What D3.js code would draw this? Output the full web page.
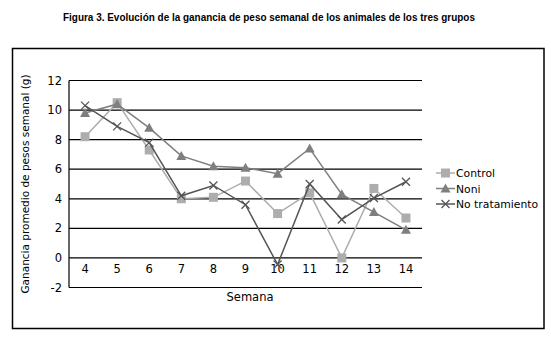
<!DOCTYPE html>
<html>
<head>
<meta charset="utf-8">
<script src="https://cdn.jsdelivr.net/npm/d3@7"></script>
<style>
    body { margin: 0; background: #fff; }
    text { font-family: "DejaVu Sans", Verdana, sans-serif; fill: #000; }
</style>
</head>
<body>
<svg id="chart" width="551" height="363"></svg>
<script>
    // semanas y valores
    const semanas = ["4", "5", "6", "7", "8", "9", "10", "11", "12", "13", "14"];
    const control = [8.2, 10.5, 7.3, 4.0, 4.1, 5.2, 3.0, 4.4, 0.0, 4.7, 2.7];
    const noni = [9.8, 10.4, 8.8, 6.9, 6.2, 6.1, 5.7, 7.4, 4.3, 3.1, 1.9];
    const noTrat = [10.3, 8.9, 7.8, 4.2, 4.9, 3.6, -0.45, 5.0, 2.6, 4.05, 5.15];
    const yTicks = [-2, 0, 2, 4, 6, 8, 10, 12];

    const series = [
        { name: "Control", values: control, color: "#adadad", marker: "square" },
        { name: "Noni", values: noni, color: "#7f7f7f", marker: "triangle" },
        { name: "No tratamiento", values: noTrat, color: "#555555", marker: "cross" },
    ];

    const svg = d3.select("#chart");

    // título
    svg.append("text")
        .attr("x", 269)
        .attr("y", 21)
        .attr("text-anchor", "middle")
        .style("font-family", "'Liberation Sans', Arial, sans-serif")
        .style("font-size", "10.5px")
        .style("font-weight", "bold")
        .attr("textLength", 412)
        .attr("lengthAdjust", "spacingAndGlyphs")
        .text("Figura 3. Evolución de la ganancia de peso semanal de los animales de los tres grupos");

    // marco exterior
    svg.append("rect")
        .attr("x", 12.5).attr("y", 48.5)
        .attr("width", 531.5).attr("height", 280)
        .attr("fill", "none").attr("stroke", "#000").attr("stroke-width", 1.5);

    const left = 69, right = 422;
    const x = d3.scalePoint().domain(semanas).range([left, right]).padding(0.5);
    const y = d3.scaleLinear().domain([-2, 12]).range([287.5, 80.5]);

    // líneas de cuadrícula
    svg.append("g")
        .selectAll("line")
        .data(yTicks)
        .join("line")
        .attr("x1", left).attr("x2", right)
        .attr("y1", d => y(d)).attr("y2", d => y(d))
        .attr("stroke", "#000").attr("stroke-width", 1.2);

    svg.append("line")
        .attr("x1", left).attr("x2", left)
        .attr("y1", y(12)).attr("y2", y(-2))
        .attr("stroke", "#000").attr("stroke-width", 1.2);

    // etiquetas eje y
    svg.append("g")
        .selectAll("text")
        .data(yTicks)
        .join("text")
        .attr("x", 62)
        .attr("y", d => y(d) + 4)
        .attr("text-anchor", "end")
        .style("font-size", "11.5px")
        .text(d => d);

    // etiquetas eje x (en la línea del cero)
    svg.append("g")
        .selectAll("text")
        .data(semanas)
        .join("text")
        .attr("x", d => x(d))
        .attr("y", y(0) + 15)
        .attr("text-anchor", "middle")
        .style("font-size", "11.5px")
        .text(d => d);

    svg.append("text")
        .attr("x", 250).attr("y", 301)
        .attr("text-anchor", "middle")
        .style("font-size", "11.5px")
        .text("Semana");

    svg.append("text")
        .attr("transform", "translate(29,184) rotate(-90)")
        .attr("text-anchor", "middle")
        .style("font-size", "10.5px")
        .text("Ganancia promedio de pesos semanal (g)");

    const line = d3.line()
        .x((d, i) => x(semanas[i]))
        .y(d => y(d));

    function drawMarker(g, type, cx, cy, color) {
        if (type === "square") {
            g.append("rect")
                .attr("x", cx - 4.5).attr("y", cy - 4.5)
                .attr("width", 9).attr("height", 9)
                .attr("fill", color);
        } else if (type === "triangle") {
            g.append("path")
                .attr("d", `M${cx},${cy - 5}L${cx + 5},${cy + 4}L${cx - 5},${cy + 4}Z`)
                .attr("fill", color);
        } else {
            g.append("path")
                .attr("d", `M${cx - 4},${cy - 4}L${cx + 4},${cy + 4}M${cx - 4},${cy + 4}L${cx + 4},${cy - 4}`)
                .attr("stroke", color).attr("stroke-width", 1.3).attr("fill", "none");
        }
    }

    series.forEach(s => {
        const g = svg.append("g");
        g.append("path")
            .datum(s.values)
            .attr("d", line)
            .attr("fill", "none")
            .attr("stroke", s.color)
            .attr("stroke-width", 1.5);
        s.values.forEach((v, i) => drawMarker(g, s.marker, x(semanas[i]), y(v), s.color));
    });

    // leyenda
    const legend = svg.append("g");
    series.forEach((s, i) => {
        const ly = 173 + i * 15.5;
        legend.append("line")
            .attr("x1", 436).attr("x2", 455)
            .attr("y1", ly).attr("y2", ly)
            .attr("stroke", s.color).attr("stroke-width", 1.5);
        drawMarker(legend, s.marker, 445.5, ly, s.color);
        legend.append("text")
            .attr("x", 456).attr("y", ly + 4)
            .style("font-size", "10.8px")
            .text(s.name);
    });
</script>
</body>
</html>
